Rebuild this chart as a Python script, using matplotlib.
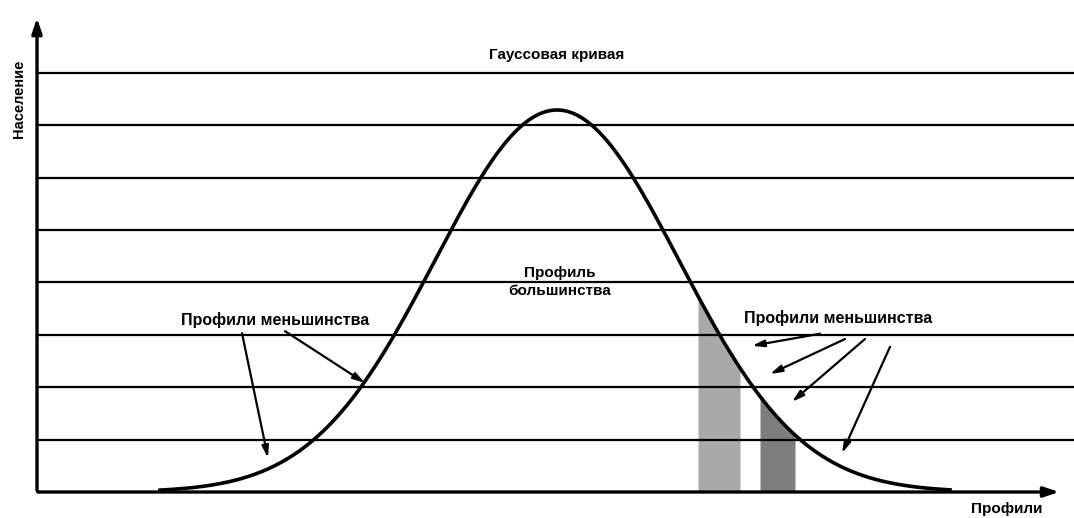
import numpy as np
import matplotlib
matplotlib.use("Agg")
from matplotlib import pyplot as plt

plt.rcParams['font.family'] = ['Liberation Sans', 'DejaVu Sans']

# niveaux des lignes horizontales (unites de niveau)
levels = [1, 2, 3, 4, 5, 6, 7, 8]

# courbe de Gauss : centre, ecart-type (x en px), hauteur du pic (niveaux)
curve_center = 557
curve_sigma = 122
curve_peak = 7.29
curve_start = 160
curve_end = 950

# profils minoritaires (bandes grises) : debut, fin, couleur
band_starts = [698, 760]
band_ends = [740, 795]
band_colors = ['#a9a9a9', '#7d7d7d']

# textes
title_text = "Гауссовая кривая"
major_text = "Профиль\nбольшинства"
minor_text = "Профили меньшинства"
x_label = "Профили"
y_label = "Население"

# fleches : (queue x, queue y, tete x, tete y)
left_arrows = [(242, 3.03, 268, 0.65), (285, 3.07, 365, 2.08)]
right_arrows = [(820, 3.02, 752, 2.79), (845, 2.92, 770, 2.25),
                (865, 2.92, 792, 1.72), (890, 2.77, 842, 0.74)]


def gauss(x):
    return curve_peak * np.exp(-0.5 * ((x - curve_center) / curve_sigma) ** 2)


fig = plt.figure(figsize=(10.74, 5.18), dpi=100)
ax = fig.add_axes([0, 0, 1, 1])
ax.set_xlim(0, 1074)
ax.set_ylim(-0.496, 9.389)
ax.axis('off')

# lignes horizontales
for lv in levels:
    ax.plot([37, 1074], [lv, lv], color='black', lw=1.6, zorder=2)

# bandes sous la courbe
for x0, x1, c in zip(band_starts, band_ends, band_colors):
    xs = np.linspace(x0, x1, 50)
    ax.fill_between(xs, 0, gauss(xs), color=c, lw=0, zorder=1)

# courbe
xc = np.linspace(curve_start, curve_end, 600)
ax.plot(xc, gauss(xc), color='black', lw=2.6, zorder=3)

# axes avec fleches
ax.annotate('', xy=(37, 9.1), xytext=(37, -0.02),
            arrowprops=dict(arrowstyle='-|>,head_length=0.9,head_width=0.3',
                            color='black', lw=2.4), zorder=4)
ax.annotate('', xy=(1062, 0), xytext=(35, 0),
            arrowprops=dict(arrowstyle='-|>,head_length=0.9,head_width=0.3',
                            color='black', lw=2.4), zorder=4)

# fleches des profils minoritaires
for tx, ty, hx, hy in left_arrows + right_arrows:
    ax.annotate('', xy=(hx, hy), xytext=(tx, ty),
                arrowprops=dict(arrowstyle='-|>,head_length=0.7,head_width=0.2',
                                color='black', lw=1.6,
                                shrinkA=0, shrinkB=0), zorder=5)

# textes
ax.text(557, 8.34, title_text, ha='center', va='center', fontsize=11,
        fontweight='bold')
ax.text(560, 4.01, major_text, ha='center', va='center', fontsize=11,
        fontweight='bold', linespacing=1.3)
ax.text(275, 3.28, minor_text, ha='center', va='center', fontsize=11.5,
        fontweight='bold')
ax.text(838, 3.32, minor_text, ha='center', va='center', fontsize=11.5,
        fontweight='bold')
ax.text(1007, -0.33, x_label, ha='center', va='center', fontsize=11,
        fontweight='bold')
ax.text(19, 7.5, y_label, ha='center', va='center', fontsize=10.5,
        fontweight='bold', rotation=90)

fig.savefig('out.png', dpi=100)
